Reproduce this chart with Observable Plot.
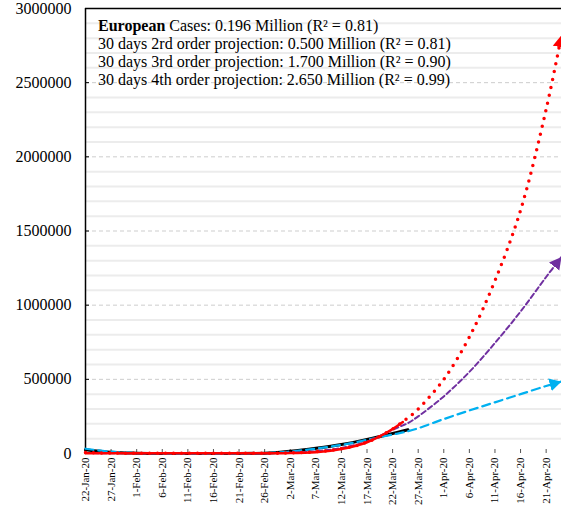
<!DOCTYPE html>
<html>
<head>
<meta charset="utf-8">
<script src="https://cdn.jsdelivr.net/npm/d3@7"></script>
<script src="https://cdn.jsdelivr.net/npm/@observablehq/plot@0.6"></script>
<style>
html, body { margin: 0; padding: 0; background: #fff; overflow: hidden; }
#wrap { position: relative; width: 561px; height: 507px; }
#chart svg, #chart svg text { font-family: "Liberation Serif", "Times New Roman", serif !important; }
#legend { position: absolute; left: 98px; top: 17px; font-family: "Liberation Serif", "Times New Roman", serif; font-size: 16px; line-height: 18px; color: #000; white-space: nowrap; }
</style>
</head>
<body>
<div id="wrap"><div id="chart"></div><div id="legend"></div></div>
<script>
// ---- data ----
const dates = ["2020-01-22","2020-01-27","2020-02-01","2020-02-06","2020-02-11","2020-02-16","2020-02-21","2020-02-26","2020-03-02","2020-03-07","2020-03-12","2020-03-17","2020-03-22","2020-03-24","2020-03-25","2020-03-27","2020-04-01","2020-04-06","2020-04-11","2020-04-16","2020-04-21","2020-04-24"];
// actual European cases (red solid)
const cases = [2000,2000,2000,2000,2000,2000,2000,2000,3000,8000,30000,76000,165000,212000,null,null,null,null,null,null,null,null];
// fitted trend over observed period (black solid)
const fit2 = [25000,8000,2000,0,0,0,0,2000,15000,35000,60000,95000,135000,152000,160000,null,null,null,null,null,null,null];
// 2nd order projection (blue dashed)
const proj2 = [32000,12000,3000,0,0,0,0,2000,13000,33000,58000,92000,128000,142000,150000,170000,232000,290000,345000,400000,455000,485000];
// 3rd order projection (purple dashed)
const proj3 = [3000,2000,1000,1000,1000,1000,1000,2000,5000,15000,38000,80000,160000,190000,205000,250000,385000,550000,745000,957000,1190000,1325000];
// 4th order projection (red dotted)
const proj4 = [6000,3000,2000,2000,2000,2000,2000,2000,4000,12000,32000,76000,165000,215000,240000,300000,500000,785000,1165000,1640000,2320000,2820000];

const tickDates = ["2020-01-22","2020-01-27","2020-02-01","2020-02-06","2020-02-11","2020-02-16","2020-02-21","2020-02-26","2020-03-02","2020-03-07","2020-03-12","2020-03-17","2020-03-22","2020-03-27","2020-04-01","2020-04-06","2020-04-11","2020-04-16","2020-04-21"];
const tickLabels = ["22-Jan-20","27-Jan-20","1-Feb-20","6-Feb-20","11-Feb-20","16-Feb-20","21-Feb-20","26-Feb-20","2-Mar-20","7-Mar-20","12-Mar-20","17-Mar-20","22-Mar-20","27-Mar-20","1-Apr-20","6-Apr-20","11-Apr-20","16-Apr-20","21-Apr-20"];
const yTicks = [0,500000,1000000,1500000,2000000,2500000,3000000];
const yTickLabels = ["0","500000","1000000","1500000","2000000","2500000","3000000"];
const yMinor = d3.range(100000, 3000000, 100000).filter(v => v % 500000 !== 0);

const legendBold = "European";
const legendLines = [
  " Cases: 0.196 Million (R² = 0.81)",
  "30 days 2rd order projection: 0.500 Million (R² = 0.81)",
  "30 days 3rd order projection: 1.700 Million (R² = 0.90)",
  "30 days 4th order projection: 2.650 Million (R² = 0.99)"
];

// ---- build ----
const parse = d3.utcParse("%Y-%m-%d");
const rows = vals => dates.map((d, i) => ({date: parse(d), value: vals[i]}));
const xTicks = tickDates.map(parse);
const X0 = parse(dates[0]);
const XEND = parse(dates[dates.length - 1]);
const SERIF = "Liberation Serif";

function triangle(color) {
  const m = d3.create("svg:marker")
    .attr("viewBox", "-12 -7 13 14")
    .attr("markerUnits", "userSpaceOnUse")
    .attr("markerWidth", 13)
    .attr("markerHeight", 14)
    .attr("refX", 0)
    .attr("refY", 0)
    .attr("orient", "auto")
    .attr("fill", color)
    .attr("stroke", "none");
  m.append("path").attr("d", "M0,0L-12,-6.5L-12,6.5Z");
  return m.node();
}

function build(useMarkers) {
  const mk = useMarkers ? {markerEnd: triangle} : {};
  return Plot.plot({
    width: 561,
    height: 507,
    marginLeft: 85,
    marginRight: 0,
    marginTop: 8,
    marginBottom: 54,
    style: {fontFamily: "Liberation Serif, serif", fontSize: "16px", background: "#fff"},
    x: {type: "utc", domain: [X0, XEND]},
    y: {domain: [0, 3000000]},
    marks: [
      Plot.ruleY(yMinor, {stroke: "#ececec", strokeWidth: 2}),
      Plot.ruleY(yTicks.slice(1, -1), {stroke: "#cdcdcd", strokeDasharray: "4,3"}),
      Plot.axisY({ticks: yTicks, tickFormat: (d, i) => yTickLabels[i], tickSize: 4, dx: 4, tickPadding: 14, fontSize: 16, fontFamily: SERIF, label: null, stroke: "#000"}),
      Plot.axisX({ticks: xTicks, tickFormat: (d, i) => tickLabels[i], tickRotate: -90, tickSize: 4, dy: -4, tickPadding: 4, fontSize: 11, fontFamily: SERIF, label: null, stroke: "#555"}),
      Plot.ruleX([X0], {stroke: "#000", strokeWidth: 1.5}),
      Plot.ruleY([3000000], {stroke: "#000", strokeWidth: 1.5}),
      Plot.line(rows(fit2), {x: "date", y: "value", stroke: "#000", strokeWidth: 3, curve: "monotone-x"}),
      Plot.line(rows(proj2), {x: "date", y: "value", stroke: "#00b0f0", strokeWidth: 2.25, strokeDasharray: "8,5", curve: "catmull-rom", ...mk}),
      Plot.line(rows(proj3), {x: "date", y: "value", stroke: "#7030a0", strokeWidth: 2, strokeDasharray: "5,3", curve: "catmull-rom", ...mk}),
      Plot.line(rows(cases), {x: "date", y: "value", stroke: "#ff0000", strokeWidth: 2.5, curve: "monotone-x"}),
      Plot.line(rows(proj4), {x: "date", y: "value", stroke: "#ff0000", strokeWidth: 3.5, strokeDasharray: "0,8", strokeLinecap: "round", curve: "catmull-rom", ...mk})
    ]
  });
}

let chart;
try { chart = build(true); } catch (e) { console.error(e); chart = build(false); }
document.getElementById("chart").appendChild(chart);

const legend = document.getElementById("legend");
legendLines.forEach((t, i) => {
  const div = document.createElement("div");
  if (i === 0) {
    const b = document.createElement("b");
    b.textContent = legendBold;
    div.appendChild(b);
  }
  div.appendChild(document.createTextNode(t));
  legend.appendChild(div);
});
</script>
</body>
</html>
